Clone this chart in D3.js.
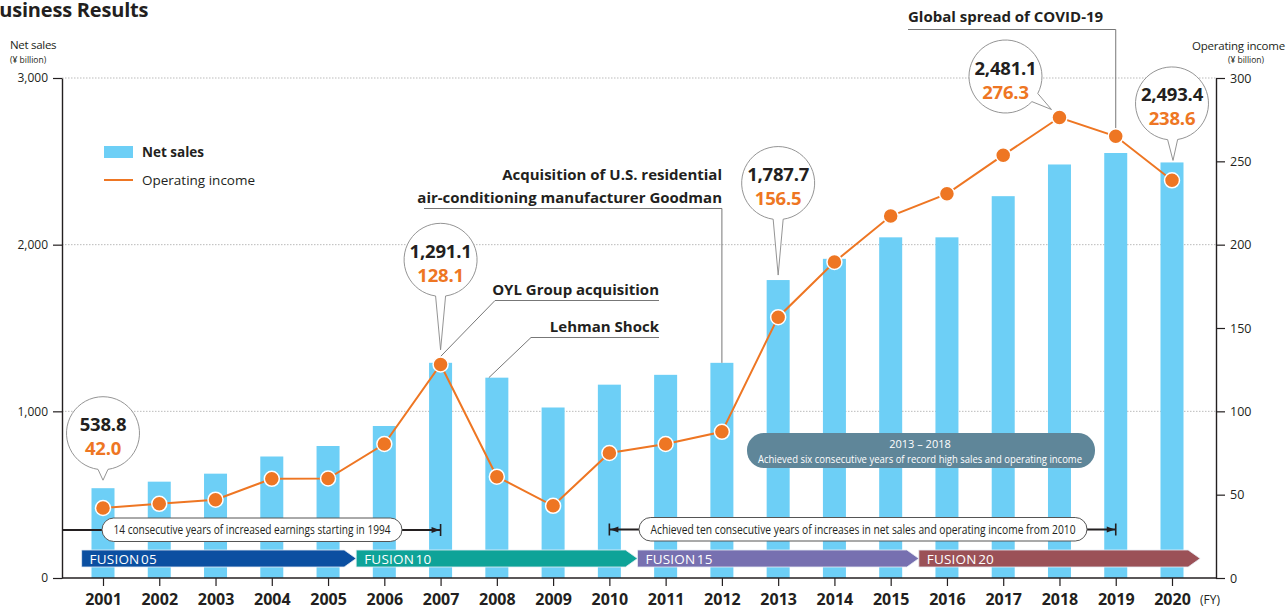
<!DOCTYPE html>
<html>
<head>
<meta charset="utf-8">
<script src="https://cdn.jsdelivr.net/npm/d3@7"></script>
<style>
  body { margin: 0; background: #fff; }
  svg { display: block; font-family: "Open Sans", "Noto Sans", sans-serif; }
</style>
</head>
<body>
<div class="chart"></div>
<script>
// data
const years = [2001, 2002, 2003, 2004, 2005, 2006, 2007, 2008, 2009, 2010,
               2011, 2012, 2013, 2014, 2015, 2016, 2017, 2018, 2019, 2020];
const netSales = [538.8, 578, 626, 729, 792, 912, 1291.1, 1202, 1023, 1160,
                  1219, 1291, 1787.7, 1915, 2044, 2044, 2291, 2481.1, 2550, 2493.4];
const opIncome = [42.0, 44.5, 47, 59.5, 59.7, 80.4, 128.1, 60.8, 43.3, 75.0,
                  80.4, 87.7, 156.5, 189.6, 217.2, 230.5, 253.7, 276.3, 265.0, 238.6];
const leftTicks = [0, 1000, 2000, 3000];
const rightTicks = [0, 50, 100, 150, 200, 250, 300];
const calloutYears = [2001, 2007, 2013, 2018, 2020];
const fusionNames = ['FUSION 05', 'FUSION 10', 'FUSION 15', 'FUSION 20'];
const fusionStart = [2000.62, 2005.5, 2010.5, 2015.5];
const fusionEnd = [2005.5, 2010.5, 2015.5, 2020.5];
const fusionColors = ['#0b4fa1', '#0ea398', '#7770b0', '#9b5157'];

const W = 1287, H = 608;
const dark = '#231f20', orange = '#ee7623', barBlue = '#6dcff6';

const svg = d3.select('.chart').append('svg')
    .attr('width', W).attr('height', H);

// scales
let x = d3.scaleLinear().domain([2001, 2020]).range([103, 1172]);
let yL = d3.scaleLinear().domain([0, 3000]).range([578, 78]);
let yR = d3.scaleLinear().domain([0, 300]).range([578, 78]);
const axisLeftX = 62, axisRightX = 1216;

// title (cut off at the left edge like the original)
svg.append('text')
    .attr('x', -14).attr('y', 17)
    .style('font-size', '20px').style('font-weight', 700).style('fill', dark)
    .style('letter-spacing', '-0.2px')
    .text('Business Results');

// grid lines
svg.append('g').selectAll('line')
    .data(leftTicks.filter(d => d > 0))
    .enter().append('line')
    .attr('x1', axisLeftX).attr('x2', axisRightX)
    .attr('y1', d => yL(d)).attr('y2', d => yL(d))
    .style('stroke', '#bbb').style('stroke-width', 1)
    .style('stroke-dasharray', '1.5,1.5');

// bars
svg.append('g').selectAll('rect')
    .data(netSales)
    .enter().append('rect')
    .attr('x', (d, i) => x(years[i]) - 11.5)
    .attr('width', 23)
    .attr('y', d => yL(d))
    .attr('height', d => yL(0) - yL(d))
    .style('fill', barBlue);

// axes
let leftAxis = svg.append('g')
    .attr('transform', 'translate(' + axisLeftX + ',0)')
    .call(d3.axisLeft(yL).tickValues(leftTicks).tickFormat(d3.format(',')).tickSize(9).tickSizeOuter(0).tickPadding(5));
let rightAxis = svg.append('g')
    .attr('transform', 'translate(' + axisRightX + ',0)')
    .call(d3.axisRight(yR).tickValues(rightTicks).tickSize(9).tickSizeOuter(0).tickPadding(5));
let bottomAxis = svg.append('g')
    .attr('transform', 'translate(0,' + yL(0) + ')')
    .call(d3.axisBottom(x).tickValues(years).tickFormat(d3.format('d')).tickSize(8).tickSizeOuter(0).tickPadding(8));
bottomAxis.select('.domain').remove();
svg.append('line')
    .attr('x1', axisLeftX).attr('x2', axisRightX)
    .attr('y1', yL(0)).attr('y2', yL(0))
    .style('stroke', dark).style('stroke-width', 1.4);

[leftAxis, rightAxis, bottomAxis].forEach(g => {
    g.selectAll('.domain').style('stroke', dark).style('stroke-width', 1.4);
    g.selectAll('.tick line').style('stroke', dark).style('stroke-width', 1.2);
    g.selectAll('text').style('fill', dark).style('font-family', '"Open Sans", sans-serif');
});
leftAxis.selectAll('text').style('font-size', '12px');
rightAxis.selectAll('text').style('font-size', '12.5px');
bottomAxis.selectAll('text').style('font-size', '16px').style('font-weight', 700);

svg.append('text').attr('x', 1200).attr('y', 604)
    .style('font-size', '12px').style('fill', dark).text('(FY)');

// axis titles
svg.append('text').attr('x', 10).attr('y', 49)
    .style('font-size', '11.5px').style('fill', dark).style('letter-spacing', '-0.3px').text('Net sales');
svg.append('text').attr('x', 10).attr('y', 63)
    .style('font-size', '8.5px').style('fill', dark).text('(¥ billion)');
svg.append('text').attr('x', 1285).attr('y', 50).attr('text-anchor', 'end')
    .style('font-size', '11.5px').style('fill', dark).style('letter-spacing', '-0.2px').text('Operating income');
svg.append('text').attr('x', 1246).attr('y', 63).attr('text-anchor', 'middle')
    .style('font-size', '8.5px').style('fill', dark).text('(¥ billion)');

// legend
svg.append('rect').attr('x', 104).attr('y', 146).attr('width', 29).attr('height', 12).style('fill', barBlue);
svg.append('text').attr('x', 142).attr('y', 157)
    .style('font-size', '13.5px').style('font-weight', 700).style('fill', dark).text('Net sales');
svg.append('line').attr('x1', 104).attr('x2', 133).attr('y1', 180).attr('y2', 180)
    .style('stroke', orange).style('stroke-width', 2);
svg.append('text').attr('x', 142).attr('y', 185)
    .style('font-size', '13.5px').style('fill', dark).text('Operating income');

// event annotations (thin leader lines)
function addPath(pts) {
    svg.append('path').attr('d', d3.line()(pts))
        .style('stroke', '#777').style('stroke-width', 1).style('fill', 'none');
}
function addLabel(tx, ty, txt, anchor) {
    svg.append('text').attr('x', tx).attr('y', ty).attr('text-anchor', anchor || 'end')
        .style('font-size', '15px').style('font-weight', 700).style('fill', dark)
        .text(txt);
}
let i2007 = years.indexOf(2007), i2008 = years.indexOf(2008), i2012 = years.indexOf(2012), i2019 = years.indexOf(2019);
addPath([[659, 300.5], [495, 300.5], [x(2007), yR(opIncome[i2007]) - 8]]);
addLabel(659, 295, 'OYL Group acquisition');
addPath([[659, 337.5], [531, 337.5], [x(2008) - 8, yL(netSales[i2008])]]);
addLabel(659, 332, 'Lehman Shock');
addPath([[424, 208.5], [x(2012), 208.5], [x(2012), yL(netSales[i2012])]]);
addLabel(722, 180, 'Acquisition of U.S. residential');
addLabel(722, 203, 'air-conditioning manufacturer Goodman');
addPath([[908, 29.5], [x(2019), 29.5], [x(2019), yR(opIncome[i2019]) - 8]]);
addLabel(908, 22, 'Global spread of COVID-19', 'start');

// gray pill: record highs 2013-2018
svg.append('rect').attr('x', 747).attr('y', 433).attr('width', 348).attr('height', 35).attr('rx', 17)
    .style('fill', '#5f8699');
svg.append('text').attr('x', 920).attr('y', 447.5).attr('text-anchor', 'middle')
    .style('font-size', '11px').style('fill', '#fff').text('2013 – 2018');
svg.append('text').attr('x', 920).attr('y', 462.5).attr('text-anchor', 'middle')
    .attr('textLength', 324).attr('lengthAdjust', 'spacingAndGlyphs')
    .style('font-size', '11.5px').style('fill', '#fff')
    .text('Achieved six consecutive years of record high sales and operating income');

// arrow ranges with white pills
function rangeArrow(x1, x2, y, leftTick, rightTick) {
    svg.append('line').attr('x1', x1).attr('x2', x2).attr('y1', y).attr('y2', y)
        .style('stroke', dark).style('stroke-width', 2);
    if (leftTick) {
        svg.append('line').attr('x1', x1).attr('x2', x1).attr('y1', y - 6).attr('y2', y + 6)
            .style('stroke', dark).style('stroke-width', 1.6);
        svg.append('path').attr('d', d3.line()([[x1 + 1, y], [x1 + 9, y - 3], [x1 + 9, y + 3]])).style('fill', dark);
    }
    if (rightTick) {
        svg.append('line').attr('x1', x2).attr('x2', x2).attr('y1', y - 6).attr('y2', y + 6)
            .style('stroke', dark).style('stroke-width', 1.6);
        svg.append('path').attr('d', d3.line()([[x2 - 1, y], [x2 - 9, y - 3], [x2 - 9, y + 3]])).style('fill', dark);
    }
}
function whitePill(px, py, pw, ph, txt, tl) {
    svg.append('rect').attr('x', px).attr('y', py).attr('width', pw).attr('height', ph).attr('rx', ph / 2)
        .style('fill', '#fff').style('stroke', '#555').style('stroke-width', 1);
    svg.append('text').attr('x', px + pw / 2).attr('y', py + ph / 2 + 4.5).attr('text-anchor', 'middle')
        .attr('textLength', tl).attr('lengthAdjust', 'spacingAndGlyphs')
        .style('font-size', '12.5px').style('fill', dark).text(txt);
}
rangeArrow(axisLeftX, x(2007), 530, false, true);
whitePill(102, 518, 300, 23.5, '14 consecutive years of increased earnings starting in 1994', 277);
rangeArrow(x(2010), x(2019), 529.5, true, true);
whitePill(639, 517.5, 448, 23.5, 'Achieved ten consecutive years of increases in net sales and operating income from 2010', 425);

// FUSION plan arrows
const fusion = svg.append('g');
fusionNames.forEach((name, i) => {
    let x0 = x(fusionStart[i]), x1 = x(fusionEnd[i]), top = 550, bot = 567, tip = 12;
    fusion.append('path')
        .attr('d', d3.line()([[x0, top], [x1 - tip, top], [x1, (top + bot) / 2], [x1 - tip, bot], [x0, bot]]) + 'Z')
        .style('fill', fusionColors[i]).style('stroke', '#e8eef5').style('stroke-width', 0.8);
    let parts = name.split(' ');
    let t = fusion.append('text').attr('x', x0 + 8).attr('y', 563.5)
        .style('font-size', '13.5px').style('fill', '#fff').style('letter-spacing', '0.2px');
    t.append('tspan').text(parts[0]);
    t.append('tspan').attr('dx', 1.5).text(parts[1]);
});

// operating income line and dots
svg.append('path')
    .datum(opIncome)
    .attr('d', d3.line().x((d, i) => x(years[i])).y(d => yR(d)))
    .style('fill', 'none').style('stroke', orange).style('stroke-width', 2);
svg.append('g').selectAll('circle')
    .data(opIncome)
    .enter().append('circle')
    .attr('cx', (d, i) => x(years[i]))
    .attr('cy', d => yR(d))
    .attr('r', 7.5)
    .style('fill', orange).style('stroke', '#fff').style('stroke-width', 1.5);

// callout bubbles: centre and tail tip offsets from the anchor point
const bubbleLayout = {
    2001: { anchor: 'bar', cdx: 0, cdy: -55, tdx: 0, tdy: -8 },
    2007: { anchor: 'bar', cdx: 0, cdy: -103, tdx: 0, tdy: -13 },
    2013: { anchor: 'bar', cdx: 0, cdy: -97, tdx: 0, tdy: -5 },
    2018: { anchor: 'dot', cdx: -54, cdy: -41, tdx: -8, tdy: -8 },
    2020: { anchor: 'bar', cdx: 0, cdy: -59, tdx: 1, tdy: -2 }
};
const r = 36.5;
const fmtSales = d3.format(',.1f');
calloutYears.forEach(yr => {
    let i = years.indexOf(yr), L = bubbleLayout[yr];
    let ax = x(yr), ay = L.anchor === 'bar' ? yL(netSales[i]) : yR(opIncome[i]);
    let cx = ax + L.cdx, cy = ay + L.cdy, tx = ax + L.tdx, ty = ay + L.tdy;
    let th = Math.atan2(ty - cy, tx - cx), dl = Math.asin(5 / r);
    let p1 = [cx + r * Math.cos(th - dl), cy + r * Math.sin(th - dl)];
    let p2 = [cx + r * Math.cos(th + dl), cy + r * Math.sin(th + dl)];
    svg.append('path')
        .attr('d', 'M' + p2 + 'A' + r + ',' + r + ' 0 1 1 ' + p1 + 'L' + [tx, ty] + 'Z')
        .style('fill', '#fff').style('stroke', '#888').style('stroke-width', 0.9);
    svg.append('text').attr('x', cx).attr('y', cy - 2).attr('text-anchor', 'middle')
        .style('font-size', '18.5px').style('font-weight', 700).style('fill', dark)
        .style('letter-spacing', '-0.2px').text(fmtSales(netSales[i]));
    svg.append('text').attr('x', cx).attr('y', cy + 22).attr('text-anchor', 'middle')
        .style('font-size', '18.5px').style('font-weight', 700).style('fill', orange)
        .style('letter-spacing', '-0.2px').text(opIncome[i].toFixed(1));
});
</script>
</body>
</html>
